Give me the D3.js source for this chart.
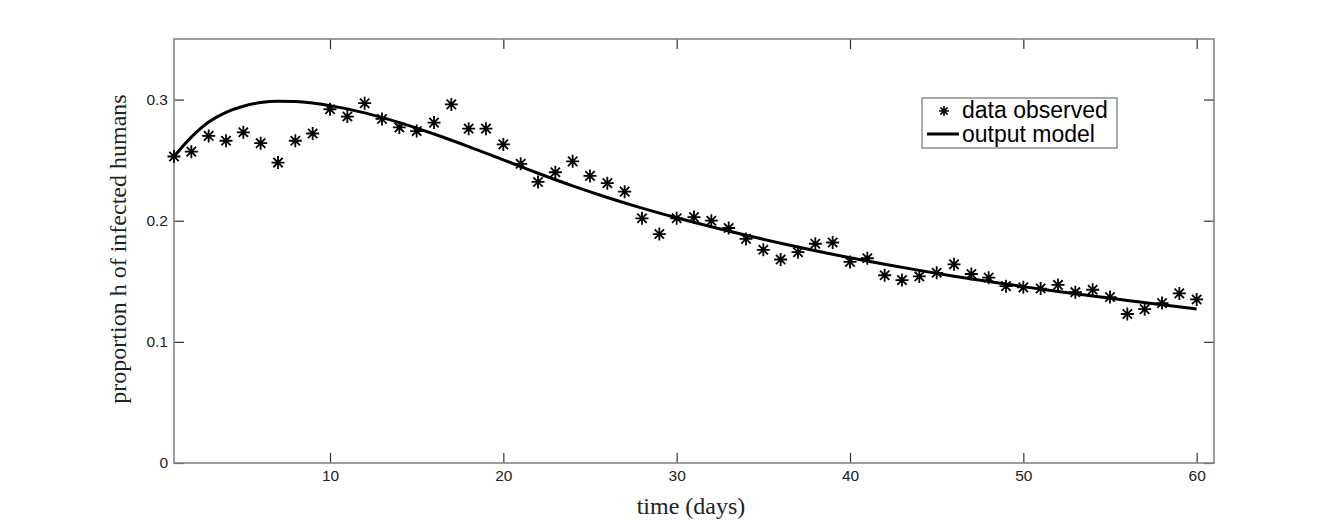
<!DOCTYPE html>
<html>
<head>
<meta charset="utf-8">
<script src="https://cdn.jsdelivr.net/npm/d3@7"></script>
<style>
  body { margin: 0; background: #fff; }
</style>
</head>
<body>
<div id="chart"></div>
<script>
// observed proportion of infected humans, one per day
var days = d3.range(1, 61);
var observed = [
  0.253, 0.257, 0.270, 0.266, 0.273, 0.264, 0.248, 0.266, 0.272, 0.292,
  0.286, 0.297, 0.284, 0.277, 0.274, 0.281, 0.296, 0.276, 0.276, 0.263,
  0.247, 0.232, 0.240, 0.249, 0.237, 0.231, 0.224, 0.202, 0.189, 0.202,
  0.203, 0.200, 0.194, 0.185, 0.176, 0.168, 0.174, 0.181, 0.182, 0.166,
  0.169, 0.155, 0.151, 0.154, 0.157, 0.164, 0.156, 0.153, 0.146, 0.145,
  0.144, 0.147, 0.141, 0.143, 0.137, 0.123, 0.127, 0.132, 0.140, 0.135
];

// model output
var modelDays = [1, 2, 3, 4, 5, 6, 7, 8, 9, 10, 12, 14, 16, 18, 20, 22, 24, 26, 28, 30,
  32, 34, 36, 38, 40, 42, 44, 46, 48, 50, 52, 54, 56, 58, 60];
var modelValues = [0.253, 0.269, 0.2815, 0.2895, 0.2945, 0.2975, 0.2986, 0.2984, 0.2972, 0.2950,
  0.2890, 0.2810, 0.2716, 0.2612, 0.2502, 0.2392, 0.2288, 0.2192, 0.2104, 0.2024,
  0.1950, 0.1880, 0.1814, 0.1752, 0.1694, 0.1640, 0.1590, 0.1542, 0.1498, 0.1456,
  0.1416, 0.1378, 0.1342, 0.1306, 0.1272];

var xTicks = [10, 20, 30, 40, 50, 60];
var yTicks = [0, 0.1, 0.2, 0.3];
var yTickLabels = ['0', '0.1', '0.2', '0.3'];


// Plot box
var boxLeft = 174, boxRight = 1214, boxTop = 39, boxBottom = 463;

var svg = d3.select('#chart')
  .append('svg')
  .attr('width', 1341)
  .attr('height', 520);

var x = d3.scaleLinear().domain([1, 61]).range([boxLeft, boxRight]);
var y = d3.scaleLinear().domain([0, 0.35]).range([boxBottom, boxTop]);


// Axes - ticks point inward, box drawn separately
svg.append('g')
  .attr('transform', 'translate(0,' + boxBottom + ')')
  .call(d3.axisBottom(x).tickValues(xTicks).tickSize(-10).tickPadding(7));

svg.append('g')
  .attr('transform', 'translate(' + boxLeft + ',0)')
  .call(d3.axisLeft(y).tickValues(yTicks).tickSize(-10).tickPadding(6)
    .tickFormat(function (d, i) { return yTickLabels[i]; }));

svg.append('g')
  .attr('transform', 'translate(0,' + boxTop + ')')
  .call(d3.axisTop(x).tickValues(xTicks).tickSize(-10).tickFormat(''));

svg.append('g')
  .attr('transform', 'translate(' + boxRight + ',0)')
  .call(d3.axisRight(y).tickValues(yTicks).tickSize(-10).tickFormat(''));

svg.selectAll('.domain').remove();
svg.selectAll('.tick line').attr('stroke', '#333').attr('stroke-width', 1.2);
svg.selectAll('.tick text')
  .attr('font-family', '"Liberation Sans", Arial, sans-serif')
  .attr('font-size', 15.5)
  .attr('fill', '#222');

svg.append('rect')
  .attr('x', boxLeft)
  .attr('y', boxTop)
  .attr('width', boxRight - boxLeft)
  .attr('height', boxBottom - boxTop)
  .attr('fill', 'none')
  .attr('stroke', '#858585')
  .attr('stroke-width', 1.6);


// Model curve
var line = d3.line()
  .x(function (d, i) { return x(modelDays[i]); })
  .y(function (d) { return y(d); })
  .curve(d3.curveMonotoneX);

svg.append('path')
  .datum(modelValues)
  .attr('d', line)
  .attr('fill', 'none')
  .attr('stroke', '#000')
  .attr('stroke-width', 3);


// Star marker like matlab '*'
function starPath(r) {
  var d = r * 0.72;
  return 'M' + (-r) + ',0H' + r + 'M0,' + (-r) + 'V' + r +
    'M' + (-d) + ',' + (-d) + 'L' + d + ',' + d +
    'M' + (-d) + ',' + d + 'L' + d + ',' + (-d);
}

svg.selectAll('.obs')
  .data(observed)
  .enter()
  .append('path')
  .attr('class', 'obs')
  .attr('transform', function (d, i) { return 'translate(' + x(days[i]) + ',' + y(d) + ')'; })
  .attr('d', starPath(6.5))
  .attr('stroke', '#000')
  .attr('stroke-width', 1.8)
  .attr('fill', 'none');


// Axis labels
svg.append('text')
  .attr('x', (boxLeft + boxRight) / 2 - 3)
  .attr('y', 514)
  .attr('text-anchor', 'middle')
  .style('font', '24px "Liberation Serif", "Times New Roman", serif')
  .style('fill', '#222')
  .text('time (days)');

svg.append('text')
  .attr('transform', 'translate(126,' + ((boxTop + boxBottom) / 2 - 2) + ') rotate(-90)')
  .attr('text-anchor', 'middle')
  .style('font', '24px "Liberation Serif", "Times New Roman", serif')
  .style('fill', '#222')
  .text('proportion h of infected humans');


// Legend
var legend = svg.append('g').attr('transform', 'translate(922,98)');

legend.append('rect')
  .attr('width', 195)
  .attr('height', 50)
  .attr('fill', '#fff')
  .attr('stroke', '#858585')
  .attr('stroke-width', 1.4);

legend.append('path')
  .attr('transform', 'translate(22,13)')
  .attr('d', starPath(5))
  .attr('stroke', '#000')
  .attr('stroke-width', 1.6);

legend.append('line')
  .attr('x1', 5).attr('x2', 37)
  .attr('y1', 36).attr('y2', 36)
  .attr('stroke', '#000')
  .attr('stroke-width', 3);

legend.selectAll('.legend-text')
  .data(['data observed', 'output model'])
  .enter()
  .append('text')
  .attr('class', 'legend-text')
  .attr('x', 40)
  .attr('y', function (d, i) { return 20 + i * 24; })
  .style('font', '23px "Liberation Sans", Arial, sans-serif')
  .style('fill', '#000')
  .text(function (d) { return d; });
</script>
</body>
</html>
